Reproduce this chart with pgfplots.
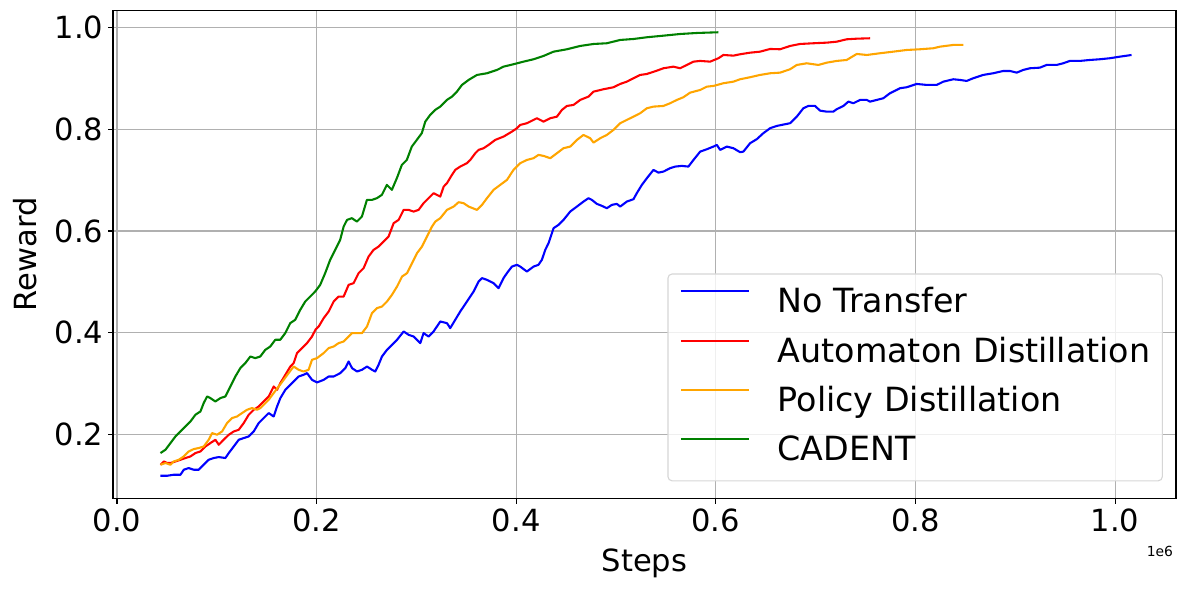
\documentclass[border=0pt]{standalone}
\usepackage{fontspec}
\setmainfont{DejaVu Sans}
\usepackage{pgfplots}
\pgfplotsset{compat=1.18}
\definecolor{mplorange}{RGB}{255,165,0}
\definecolor{mplgreen}{RGB}{0,128,0}
\definecolor{gridgray}{RGB}{176,176,176}
\definecolor{legedge}{RGB}{214,214,214}

\begin{document}
\begin{tikzpicture}
\path[use as bounding box] (-81.4pt,-65.5pt) rectangle (775.2pt,359.3pt);
\begin{axis}[
  at={(0,0)}, anchor=south west,
  scale only axis, width=765.8pt, height=351.9pt,
  xmin=-0.004, xmax=1.061, ymin=0.0742, ymax=1.0334,
  xtick={0,0.2,0.4,0.6,0.8,1.0},
  ytick={0.2,0.4,0.6,0.8,1.0},
  /pgf/number format/.cd, fixed, fixed zerofill, precision=1, assume math mode=true,
  /pgfplots/.cd,
  scaled ticks=false,
  tick pos=left, tick align=outside,
  major tick length=3.5pt,
  tick style={black, line width=0.8pt},
  axis line style={line width=0.8pt},
  grid=major,
  major grid style={gridgray, line width=0.8pt},
  tick label style={font=\fontsize{22}{26}\selectfont},
  label style={font=\fontsize{22}{26}\selectfont},
  xlabel={Steps},
  ylabel={Reward},
  xlabel style={at={(axis description cs:0.5,0)}, anchor=base, yshift=-52.3pt},
  ylabel style={at={(axis description cs:0,0.5)}, anchor=base, yshift=55pt},
  legend cell align=left,
  legend style={at={(axis description cs:1,0)}, anchor=south east,
    xshift=-9.4pt, yshift=12.5pt,
    draw=legedge, line width=0.8pt, rounded corners=3pt, fill=white, fill opacity=0.8, text opacity=1,
    font=\fontsize{24}{28}\selectfont,
    inner xsep=8.6pt, inner ysep=3.5pt, row sep=0pt,
    nodes={inner sep=0pt, text height=24.5pt, text depth=11pt},
    /tikz/every odd column/.style={column sep=20pt}},
  legend image code/.code={\draw[#1, line width=1.5pt] (0pt,8.76pt) -- (49pt,8.76pt);},
  every axis plot/.append style={line width=1.5pt, line join=round},
]
\addplot[blue] coordinates {
(0.0436,0.1193) (0.0503,0.1193) (0.0569,0.1213) (0.0636,0.1213) (0.0669,0.1311) (0.0719,0.1344)
(0.0769,0.1311) (0.0819,0.1311) (0.0869,0.1409) (0.0919,0.1507) (0.0969,0.1541) (0.1020,0.1560)
(0.1086,0.1541) (0.1120,0.1639) (0.1170,0.1768) (0.1220,0.1900) (0.1270,0.1933) (0.1320,0.1965)
(0.1370,0.2063) (0.1420,0.2228) (0.1470,0.2326) (0.1520,0.2424) (0.1570,0.2357) (0.1604,0.2553)
(0.1637,0.2718) (0.1687,0.2881) (0.1720,0.2946) (0.1770,0.3044) (0.1820,0.3142) (0.1870,0.3176)
(0.1904,0.3209) (0.1954,0.3077) (0.2004,0.3025) (0.2071,0.3077) (0.2121,0.3142) (0.2171,0.3142)
(0.2238,0.3209) (0.2288,0.3307) (0.2321,0.3437) (0.2355,0.3307) (0.2405,0.3240) (0.2455,0.3274)
(0.2505,0.3338) (0.2555,0.3274) (0.2588,0.3240) (0.2621,0.3372) (0.2655,0.3535) (0.2705,0.3666)
(0.2755,0.3764) (0.2806,0.3863) (0.2872,0.4026) (0.2922,0.3961) (0.2972,0.3927) (0.3039,0.3798)
(0.3072,0.3994) (0.3122,0.3927) (0.3172,0.4026) (0.3239,0.4222) (0.3306,0.4190) (0.3339,0.4092)
(0.3389,0.4255) (0.3439,0.4418) (0.3506,0.4614) (0.3573,0.4811) (0.3623,0.5007) (0.3657,0.5074)
(0.3707,0.5040) (0.3773,0.4975) (0.3823,0.4877) (0.3873,0.5074) (0.3907,0.5172) (0.3957,0.5301)
(0.4007,0.5335) (0.4040,0.5301) (0.4107,0.5203) (0.4174,0.5301) (0.4223,0.5335) (0.4257,0.5433)
(0.4291,0.5629) (0.4324,0.5761) (0.4374,0.6055) (0.4424,0.6120) (0.4474,0.6218) (0.4541,0.6381)
(0.4608,0.6479) (0.4674,0.6577) (0.4724,0.6644) (0.4758,0.6610) (0.4808,0.6532) (0.4858,0.6493)
(0.4908,0.6447) (0.4958,0.6512) (0.5008,0.6532) (0.5042,0.6479) (0.5108,0.6577) (0.5175,0.6624)
(0.5208,0.6742) (0.5259,0.6905) (0.5309,0.7036) (0.5375,0.7199) (0.5425,0.7146) (0.5475,0.7166)
(0.5542,0.7233) (0.5592,0.7264) (0.5659,0.7278) (0.5725,0.7264) (0.5776,0.7395) (0.5843,0.7558)
(0.5910,0.7605) (0.5976,0.7657) (0.6010,0.7690) (0.6043,0.7592) (0.6110,0.7657) (0.6176,0.7625)
(0.6243,0.7547) (0.6276,0.7558) (0.6343,0.7723) (0.6410,0.7802) (0.6476,0.7920) (0.6544,0.8018)
(0.6611,0.8063) (0.6744,0.8116) (0.6811,0.8245) (0.6877,0.8410) (0.6927,0.8455) (0.6994,0.8455)
(0.7044,0.8363) (0.7111,0.8343) (0.7177,0.8343) (0.7211,0.8391) (0.7278,0.8455) (0.7328,0.8540)
(0.7378,0.8508) (0.7445,0.8573) (0.7512,0.8573) (0.7545,0.8540) (0.7612,0.8573) (0.7678,0.8606)
(0.7745,0.8705) (0.7845,0.8803) (0.7912,0.8822) (0.8012,0.8887) (0.8112,0.8868) (0.8213,0.8868)
(0.8279,0.8932) (0.8379,0.8979) (0.8446,0.8966) (0.8513,0.8946) (0.8579,0.8999) (0.8679,0.9064)
(0.8779,0.9097) (0.8880,0.9142) (0.8947,0.9142) (0.9014,0.9109) (0.9080,0.9162) (0.9147,0.9195)
(0.9247,0.9207) (0.9314,0.9260) (0.9414,0.9260) (0.9480,0.9293) (0.9547,0.9339) (0.9647,0.9339)
(0.9748,0.9358) (0.9848,0.9372) (0.9948,0.9392) (1.0048,0.9423) (1.0165,0.9456)
};
\addlegendentry{No Transfer}
\addplot[red] coordinates {
(0.0436,0.1409) (0.0469,0.1474) (0.0503,0.1443) (0.0536,0.1443) (0.0586,0.1474) (0.0636,0.1507)
(0.0686,0.1541) (0.0736,0.1572) (0.0786,0.1639) (0.0836,0.1670) (0.0886,0.1768) (0.0936,0.1835)
(0.0986,0.1900) (0.1020,0.1802) (0.1069,0.1900) (0.1120,0.1998) (0.1170,0.2063) (0.1220,0.2096)
(0.1270,0.2228) (0.1320,0.2391) (0.1370,0.2489) (0.1420,0.2553) (0.1470,0.2652) (0.1520,0.2750)
(0.1570,0.2946) (0.1604,0.2881) (0.1637,0.3013) (0.1687,0.3176) (0.1737,0.3338) (0.1770,0.3405)
(0.1804,0.3602) (0.1854,0.3700) (0.1904,0.3798) (0.1954,0.3927) (0.1988,0.4059) (0.2021,0.4124)
(0.2071,0.4288) (0.2121,0.4418) (0.2171,0.4614) (0.2221,0.4712) (0.2271,0.4712) (0.2321,0.4942)
(0.2371,0.4975) (0.2421,0.5172) (0.2471,0.5270) (0.2521,0.5498) (0.2571,0.5629) (0.2621,0.5694)
(0.2671,0.5792) (0.2721,0.5890) (0.2772,0.6153) (0.2822,0.6218) (0.2872,0.6414) (0.2922,0.6414)
(0.2972,0.6381) (0.3022,0.6414) (0.3072,0.6546) (0.3122,0.6644) (0.3172,0.6742) (0.3239,0.6675)
(0.3273,0.6871) (0.3306,0.6938) (0.3356,0.7101) (0.3389,0.7199) (0.3439,0.7264) (0.3506,0.7331)
(0.3540,0.7395) (0.3590,0.7527) (0.3623,0.7592) (0.3673,0.7625) (0.3723,0.7690) (0.3790,0.7788)
(0.3873,0.7853) (0.3957,0.7951) (0.4007,0.8018) (0.4040,0.8082) (0.4107,0.8116) (0.4174,0.8181)
(0.4207,0.8214) (0.4274,0.8147) (0.4341,0.8214) (0.4408,0.8245) (0.4458,0.8377) (0.4508,0.8455)
(0.4574,0.8475) (0.4641,0.8573) (0.4724,0.8638) (0.4775,0.8736) (0.4874,0.8783) (0.4974,0.8822)
(0.5042,0.8887) (0.5108,0.8932) (0.5175,0.8999) (0.5242,0.9064) (0.5309,0.9083) (0.5409,0.9148)
(0.5475,0.9195) (0.5575,0.9227) (0.5642,0.9195) (0.5709,0.9260) (0.5776,0.9325) (0.5843,0.9339)
(0.5943,0.9325) (0.6026,0.9392) (0.6076,0.9456) (0.6176,0.9443) (0.6243,0.9470) (0.6343,0.9501)
(0.6443,0.9521) (0.6544,0.9574) (0.6644,0.9568) (0.6744,0.9633) (0.6844,0.9672) (0.6977,0.9686)
(0.7111,0.9698) (0.7211,0.9717) (0.7311,0.9764) (0.7412,0.9776) (0.7545,0.9784)
};
\addlegendentry{Automaton Distillation}
\addplot[mplorange] coordinates {
(0.0436,0.1409) (0.0486,0.1443) (0.0536,0.1409) (0.0569,0.1474) (0.0619,0.1507) (0.0669,0.1572)
(0.0719,0.1670) (0.0769,0.1717) (0.0819,0.1737) (0.0869,0.1768) (0.0919,0.1900) (0.0953,0.2031)
(0.1003,0.1998) (0.1053,0.2063) (0.1103,0.2228) (0.1153,0.2326) (0.1203,0.2357) (0.1253,0.2424)
(0.1303,0.2489) (0.1353,0.2522) (0.1403,0.2489) (0.1437,0.2522) (0.1487,0.2620) (0.1520,0.2685)
(0.1570,0.2817) (0.1620,0.2946) (0.1670,0.3077) (0.1720,0.3209) (0.1770,0.3338) (0.1820,0.3274)
(0.1870,0.3240) (0.1920,0.3274) (0.1954,0.3470) (0.2004,0.3503) (0.2071,0.3602) (0.2121,0.3700)
(0.2171,0.3731) (0.2221,0.3798) (0.2271,0.3829) (0.2321,0.3927) (0.2355,0.3994) (0.2405,0.3994)
(0.2455,0.3994) (0.2505,0.4124) (0.2555,0.4387) (0.2605,0.4485) (0.2655,0.4516) (0.2705,0.4614)
(0.2755,0.4746) (0.2806,0.4909) (0.2856,0.5105) (0.2906,0.5172) (0.2956,0.5368) (0.3006,0.5564)
(0.3056,0.5694) (0.3106,0.5890) (0.3156,0.6086) (0.3189,0.6184) (0.3239,0.6251) (0.3306,0.6414)
(0.3373,0.6479) (0.3423,0.6565) (0.3473,0.6546) (0.3523,0.6479) (0.3607,0.6414) (0.3657,0.6512)
(0.3707,0.6644) (0.3773,0.6807) (0.3840,0.6905) (0.3907,0.7003) (0.3973,0.7199) (0.4040,0.7331)
(0.4107,0.7395) (0.4174,0.7429) (0.4223,0.7494) (0.4274,0.7474) (0.4341,0.7429) (0.4408,0.7527)
(0.4474,0.7625) (0.4541,0.7657) (0.4608,0.7788) (0.4674,0.7886) (0.4741,0.7821) (0.4775,0.7735)
(0.4841,0.7821) (0.4908,0.7886) (0.4974,0.7984) (0.5042,0.8116) (0.5108,0.8181) (0.5175,0.8245)
(0.5242,0.8312) (0.5309,0.8410) (0.5375,0.8442) (0.5475,0.8455) (0.5542,0.8508) (0.5609,0.8573)
(0.5675,0.8626) (0.5742,0.8716) (0.5843,0.8769) (0.5910,0.8834) (0.5976,0.8848) (0.6076,0.8901)
(0.6176,0.8932) (0.6243,0.8979) (0.6343,0.9019) (0.6443,0.9064) (0.6544,0.9097) (0.6644,0.9109)
(0.6744,0.9176) (0.6811,0.9260) (0.6911,0.9293) (0.7027,0.9260) (0.7111,0.9305) (0.7211,0.9339)
(0.7311,0.9358) (0.7412,0.9476) (0.7512,0.9456) (0.7645,0.9490) (0.7778,0.9521) (0.7912,0.9554)
(0.8045,0.9568) (0.8179,0.9588) (0.8245,0.9619) (0.8379,0.9653) (0.8479,0.9653)
};
\addlegendentry{Policy Distillation}
\addplot[mplgreen] coordinates {
(0.0436,0.1639) (0.0486,0.1704) (0.0536,0.1835) (0.0586,0.1965) (0.0636,0.2063) (0.0686,0.2161)
(0.0736,0.2259) (0.0786,0.2391) (0.0836,0.2455) (0.0869,0.2620) (0.0903,0.2750) (0.0936,0.2718)
(0.0986,0.2652) (0.1036,0.2718) (0.1086,0.2750) (0.1136,0.2946) (0.1186,0.3142) (0.1236,0.3307)
(0.1286,0.3405) (0.1336,0.3535) (0.1386,0.3503) (0.1436,0.3535) (0.1486,0.3666) (0.1536,0.3731)
(0.1586,0.3863) (0.1636,0.3863) (0.1686,0.3994) (0.1736,0.4190) (0.1786,0.4255) (0.1836,0.4451)
(0.1886,0.4614) (0.1936,0.4712) (0.1986,0.4811) (0.2036,0.4942) (0.2086,0.5172) (0.2136,0.5433)
(0.2186,0.5629) (0.2236,0.5825) (0.2271,0.6086) (0.2305,0.6218) (0.2354,0.6251) (0.2404,0.6184)
(0.2454,0.6283) (0.2504,0.6610) (0.2554,0.6610) (0.2604,0.6644) (0.2654,0.6709) (0.2704,0.6905)
(0.2754,0.6807) (0.2804,0.7036) (0.2854,0.7297) (0.2904,0.7395) (0.2954,0.7657) (0.3004,0.7788)
(0.3054,0.7920) (0.3089,0.8147) (0.3138,0.8279) (0.3188,0.8377) (0.3239,0.8442) (0.3306,0.8573)
(0.3356,0.8638) (0.3406,0.8736) (0.3456,0.8867) (0.3523,0.8966) (0.3607,0.9064) (0.3707,0.9097)
(0.3807,0.9162) (0.3873,0.9227) (0.3973,0.9274) (0.4073,0.9325) (0.4174,0.9372) (0.4274,0.9437)
(0.4374,0.9521) (0.4508,0.9568) (0.4641,0.9633) (0.4775,0.9672) (0.4908,0.9686) (0.5042,0.9751)
(0.5175,0.9770) (0.5309,0.9804) (0.5475,0.9835) (0.5642,0.9868) (0.5810,0.9888) (0.6026,0.9902)
};
\addlegendentry{CADENT}
\end{axis}
\node[anchor=base east, font=\fontsize{10}{12}\selectfont, xshift=1.4pt, yshift=-41.5pt]
  at (current axis.south east) {1e6};
\end{tikzpicture}
\end{document}
